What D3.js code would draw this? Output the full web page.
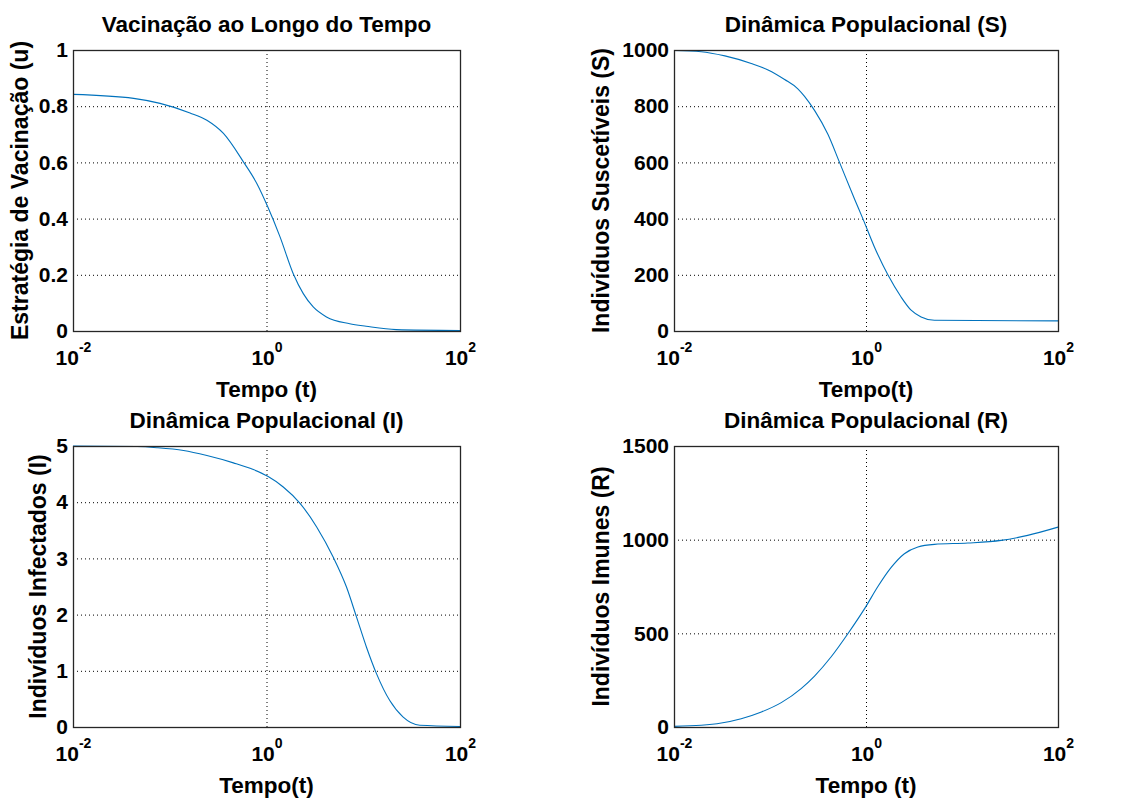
<!DOCTYPE html>
<html>
<head>
<meta charset="utf-8">
<script src="https://cdn.jsdelivr.net/npm/d3@7"></script>
<style>
body { margin: 0; background: #fff; }
text { font-family: "Liberation Sans", Arial, sans-serif; font-weight: bold; fill: #000; }
</style>
</head>
<body>
<svg class="fig" width="1136" height="800"></svg>
<script>
// values
const tU = [0.01, 0.0423, 0.0794, 0.162, 0.242, 0.359, 0.577, 0.794, 1.03, 1.38, 1.89, 2.40, 3.04, 4.17, 7.24, 10.7, 21.9, 100]
const uVals = [0.842, 0.828, 0.81, 0.776, 0.75, 0.703, 0.602, 0.525, 0.442, 0.335, 0.204, 0.133, 0.0855, 0.05, 0.026, 0.017, 0.005, 0.002]

const tS = [0.01, 0.0192, 0.0339, 0.0638, 0.0955, 0.142, 0.195, 0.229, 0.291, 0.401, 0.530, 0.759, 0.927, 1.22, 1.69, 2.32, 2.95, 3.75, 5.16, 100]
const sVals = [998, 994, 979, 952, 929, 895, 862, 835, 785, 700, 600, 470, 400, 300, 200, 121, 74, 50, 38, 36]

const tI = [0.01, 0.0457, 0.0736, 0.139, 0.242, 0.455, 0.731, 1.03, 1.49, 2.22, 3.30, 4.90, 6.71, 8.51, 10.8, 13.7, 18.8, 25.7, 38.4, 100]
const iVals = [5, 4.99, 4.97, 4.92, 4.83, 4.70, 4.58, 4.46, 4.27, 3.98, 3.56, 3.02, 2.49, 1.96, 1.42, 0.95, 0.47, 0.18, 0.03, 0.01]

const tR = [0.01, 0.0192, 0.0311, 0.0501, 0.0813, 0.131, 0.211, 0.291, 0.434, 0.647, 0.989, 1.33, 1.83, 2.51, 3.47, 5.16, 11.5, 25.5, 48.3, 100]
const rVals = [3.5, 9, 21, 44, 80, 130, 205, 272, 375, 498, 640, 750, 852, 925, 961, 975, 982, 996, 1023, 1067]

const xTicks = [0.01, 1, 100]
const xExps = ["-2", "0", "2"]
const uTicks = [0, 0.2, 0.4, 0.6, 0.8, 1]
const sTicks = [0, 200, 400, 600, 800, 1000]
const iTicks = [0, 1, 2, 3, 4, 5]
const rTicks = [0, 500, 1000, 1500]

const panels = [
  {title: "Vacinação ao Longo do Tempo", ylab: "Estratégia de Vacinação (u)", xlab: "Tempo (t)",
   t: tU, v: uVals, ticks: uTicks, box: [73, 50, 460, 331], ylabX: 28},
  {title: "Dinâmica Populacional (S)", ylab: "Indivíduos Suscetíveis (S)", xlab: "Tempo(t)",
   t: tS, v: sVals, ticks: sTicks, box: [674, 50, 1058, 331], ylabX: 609},
  {title: "Dinâmica Populacional (I)", ylab: "Indivíduos Infectados (I)", xlab: "Tempo(t)",
   t: tI, v: iVals, ticks: iTicks, box: [73, 446, 460, 727], ylabX: 46},
  {title: "Dinâmica Populacional (R)", ylab: "Indivíduos Imunes (R)", xlab: "Tempo (t)",
   t: tR, v: rVals, ticks: rTicks, box: [674, 446, 1058, 727], ylabX: 609}
]

const svg = d3.select(".fig")

panels.forEach((p) => {
  const [x0, y0, x1, y1] = p.box
  const x = d3.scaleLog().domain([0.01, 100]).range([x0, x1])
  const yMax = p.ticks[p.ticks.length - 1]
  const y = d3.scaleLinear().domain([0, yMax]).range([y1, y0])
  const g = svg.append("g")

  // dotted grid
  g.append("g").selectAll("line")
    .data(p.ticks.filter((d) => d > 0 && d < yMax))
    .enter().append("line")
    .attr("x1", x0).attr("x2", x1)
    .attr("y1", (d) => y(d) + 0.5).attr("y2", (d) => y(d) + 0.5)
    .style("stroke", "#000").style("stroke-width", 1).style("stroke-dasharray", "1,3")
  g.append("line")
    .attr("x1", x(1) + 0.5).attr("x2", x(1) + 0.5)
    .attr("y1", y0).attr("y2", y1)
    .style("stroke", "#000").style("stroke-width", 1).style("stroke-dasharray", "1,3")

  // curve
  const line = d3.line()
    .x((d, i) => x(p.t[i]))
    .y((d) => y(d))
    .curve(d3.curveMonotoneX)
  g.append("path")
    .attr("d", line(p.v))
    .attr("fill", "none")
    .style("stroke", "#0072bd")
    .style("stroke-width", 1.1)

  // box
  g.append("rect")
    .attr("x", x0 + 0.5).attr("y", y0 + 0.5)
    .attr("width", x1 - x0).attr("height", y1 - y0)
    .attr("fill", "none").style("stroke", "#262626").style("stroke-width", 1.3)

  // y axis labels
  const ya = g.append("g")
    .attr("transform", "translate(" + x0 + ",0)")
    .call(d3.axisLeft(y).tickValues(p.ticks).tickSize(0).tickPadding(5).tickFormat(d3.format("~g")))
  ya.select(".domain").remove()
  ya.selectAll("text").style("font-size", "21px").attr("font-family", null)

  // x axis labels 10^n
  const xa = g.append("g")
    .attr("transform", "translate(0," + y1 + ")")
    .call(d3.axisBottom(x).tickValues(xTicks).tickSize(0).tickFormat(""))
  xa.select(".domain").remove()
  xa.selectAll(".tick text").each(function(d, i) {
    const t = d3.select(this)
      .attr("y", 34).attr("dy", null)
      .attr("font-family", null).style("font-size", "21px")
    t.append("tspan").text("10")
    t.append("tspan").attr("dy", -13).style("font-size", "14px").text(xExps[i])
  })

  // title and labels
  g.append("text")
    .attr("x", (x0 + x1) / 2).attr("y", y0 - 18)
    .attr("text-anchor", "middle").style("font-size", "22.5px")
    .text(p.title)
  g.append("text")
    .attr("x", (x0 + x1) / 2).attr("y", y1 + 66)
    .attr("text-anchor", "middle").style("font-size", "22.5px")
    .text(p.xlab)
  g.append("text")
    .attr("transform", "translate(" + p.ylabX + "," + (y0 + y1) / 2 + ") rotate(-90)")
    .attr("text-anchor", "middle").style("font-size", "23px")
    .text(p.ylab)
})
</script>
</body>
</html>
